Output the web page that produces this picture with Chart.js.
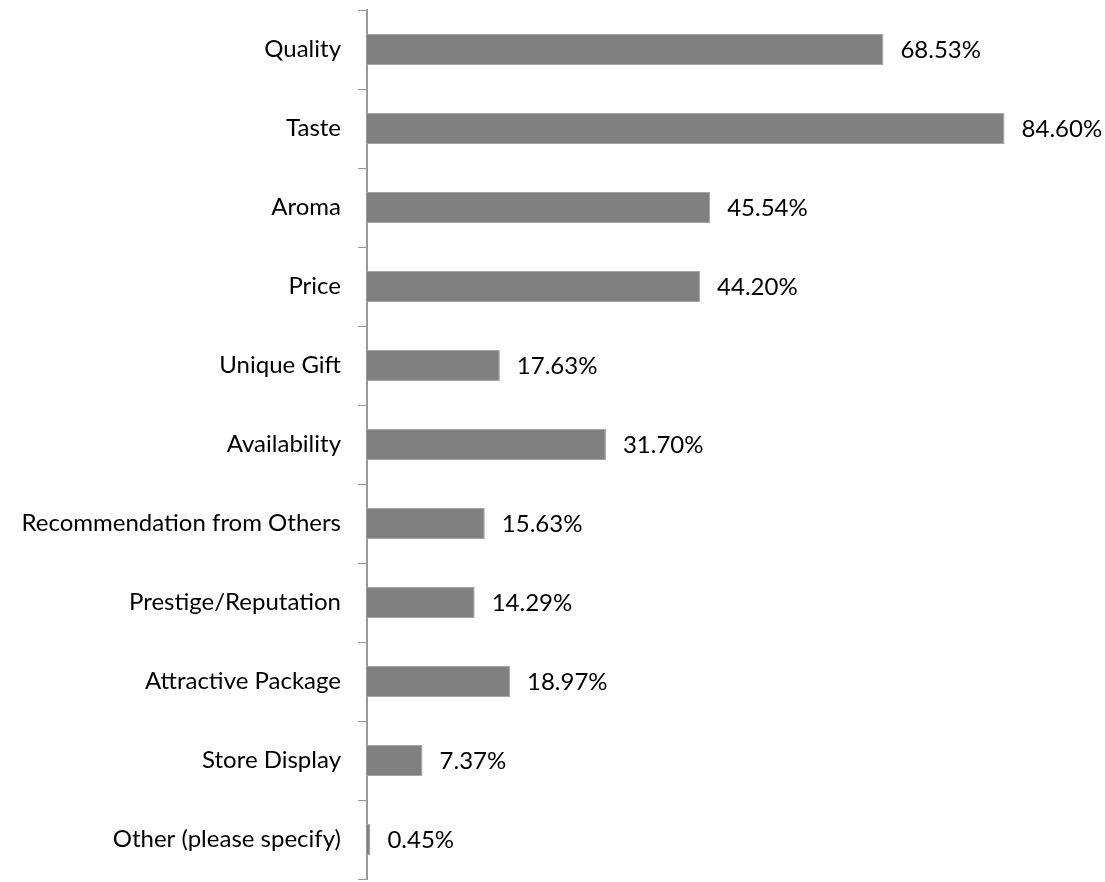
<!DOCTYPE html>
<html>
<head>
<meta charset="utf-8">
<script src="https://cdn.jsdelivr.net/npm/chart.js@4/dist/chart.umd.min.js"></script>
<style>
  html, body { margin: 0; padding: 0; background: #fff; }
  #wrap { width: 1105px; height: 882px; }
</style>
</head>
<body>
<div id="wrap"><canvas id="myBarChart" width="1105" height="882"></canvas></div>
<script>
// categories and values (percent of respondents)
var categories = ['Quality', 'Taste', 'Aroma', 'Price', 'Unique Gift', 'Availability',
  'Recommendation from Others', 'Prestige/Reputation', 'Attractive Package', 'Store Display',
  'Other (please specify)'];
var percentages = [68.53, 84.60, 45.54, 44.20, 17.63, 31.70, 15.63, 14.29, 18.97, 7.37, 0.45];

var FONT = 'Lato, Calibri, "Open Sans", sans-serif';

// draws the value text right of each bar
var valueLabels = {
  id: 'valueLabels',
  afterDatasetsDraw: function (chart) {
    var ctx = chart.ctx;
    var meta = chart.getDatasetMeta(0);
    ctx.save();
    ctx.font = '24px ' + FONT;
    ctx.fillStyle = '#000';
    ctx.textAlign = 'left';
    ctx.textBaseline = 'middle';
    meta.data.forEach(function (bar, i) {
      ctx.fillText(percentages[i].toFixed(2) + '%', bar.x + 17, bar.y + 1);
    });
    ctx.restore();
  }
};

var ctx = document.getElementById('myBarChart').getContext('2d');
var myBarChart = new Chart(ctx, {
  type: 'bar',
  data: {
    labels: categories,
    datasets: [{
      data: percentages,
      backgroundColor: '#808080',
      borderColor: '#a6a6a6',
      borderWidth: 1,
      barPercentage: 0.39,
      categoryPercentage: 1
    }]
  },
  options: {
    indexAxis: 'y',
    responsive: false,
    animation: false,
    layout: { padding: { top: 10, bottom: 3, left: 0, right: 7 } },
    plugins: {
      legend: { display: false },
      tooltip: { enabled: false }
    },
    scales: {
      x: {
        display: false,
        min: 0,
        max: 97
      },
      y: {
        afterFit: function (scale) {
          scale.width = 367;
          scale.paddingTop = 0;
          scale.paddingBottom = 0;
        },
        border: { display: true, color: '#999999', width: 2 },
        grid: {
          drawOnChartArea: false,
          drawTicks: true,
          tickLength: 9,
          color: '#999999',
          lineWidth: 1
        },
        ticks: {
          color: '#000',
          padding: 17,
          font: { family: FONT, size: 24 }
        }
      }
    }
  },
  plugins: [valueLabels]
});
</script>
</body>
</html>
